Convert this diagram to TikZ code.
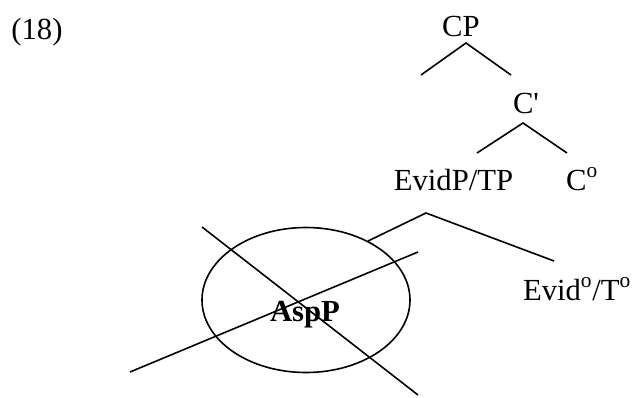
\documentclass[tikz,border=0pt]{standalone}
\usepackage{fontspec}
\setmainfont{Liberation Serif}[Ligatures=TeXOff]
\usepackage{tikz}

\tikzset{
  synlabel/.style={anchor=base, inner sep=0.75pt, font=\fontsize{23}{28}\selectfont},
  boldlabel/.style={synlabel, font=\fontsize{23}{28}\selectfont\bfseries},
  branch/.style={line width=1.2pt},
}

\begin{document}
\begin{tikzpicture}[x=0.75pt,y=0.75pt,yscale=-1,xscale=1]
\useasboundingbox (0,0) rectangle (633,397);

% Text Node
\node[synlabel] (exnum) at (37,39) {(18)};
% Text Node
\node[synlabel] (cp) at (461,36) {CP};
% Text Node
\node[synlabel] (cbar) at (526,113) {C'};
% Text Node
\node[synlabel] (evidp) at (453.5,190) {EvidP/TP};
% Text Node
\node[synlabel] (chead) at (582,190) {C\textsuperscript{o}};
% Text Node
\node[synlabel] (evidhead) at (577,300) {Evid\textsuperscript{o}/T\textsuperscript{o}};
% Text Node
\node[boldlabel] (aspp) at (305,321) {AspP};

% branch points
\coordinate (cptop) at (466,43);
\coordinate (cpleft) at (421,75);
\coordinate (cpright) at (511,75);
\coordinate (cbartop) at (523,123);
\coordinate (cbarleft) at (477,153);
\coordinate (cbarright) at (567,153);
\coordinate (evtop) at (426,213);
\coordinate (evleft) at (368,241);
\coordinate (evright) at (554,261);

%Straight Lines
\draw[branch] (cpleft) -- (cptop) -- (cpright);
\draw[branch] (cbarleft) -- (cbartop) -- (cbarright);
\draw[branch] (evleft) -- (evtop) -- (evright);

%Ellipse
\draw[branch] (306,300) ellipse [x radius=104, y radius=72.5];

%Crossing Lines
\coordinate (xa1) at (202,227);
\coordinate (xa2) at (418,395);
\coordinate (xb1) at (130,372);
\coordinate (xb2) at (418,252);
\draw[branch] (xa1) -- (xa2);
\draw[branch] (xb1) -- (xb2);

\end{tikzpicture}
\end{document}
